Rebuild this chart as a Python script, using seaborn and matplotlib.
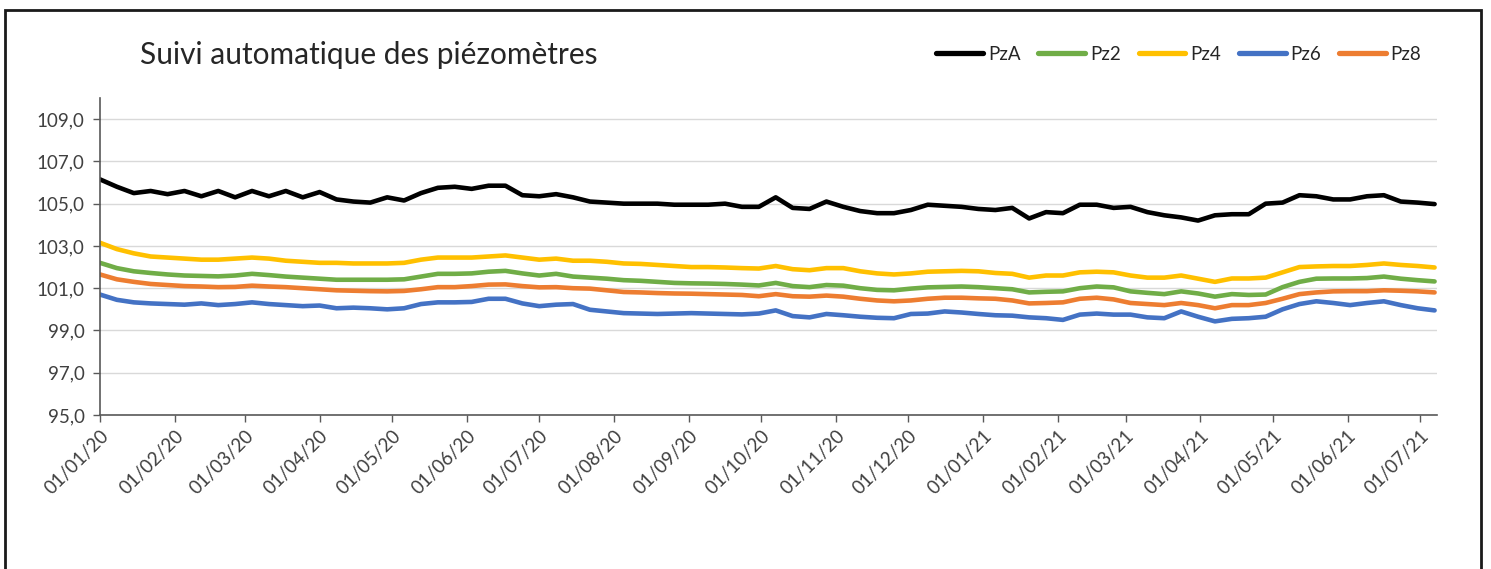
import numpy as np
import pandas as pd
import matplotlib
matplotlib.use("Agg")
import matplotlib.pyplot as plt
import matplotlib.dates as mdates
from matplotlib.ticker import FuncFormatter, FixedLocator
from matplotlib.patches import Rectangle
import seaborn as sns

# ---------------- data (weekly readings, 2020-01-01 ... 2021-07-07) ----------------
start_date = "2020-01-01"
n_weeks = 80

pzA = [106.15, 105.8, 105.5, 105.6, 105.45, 105.6, 105.35, 105.6, 105.3, 105.6,
       105.35, 105.6, 105.3, 105.55, 105.2, 105.1, 105.05, 105.3, 105.15, 105.5,
       105.75, 105.8, 105.7, 105.85, 105.85, 105.4, 105.35, 105.45, 105.3, 105.1,
       105.05, 105.0, 105.0, 105.0, 104.95, 104.95, 104.95, 105.0, 104.85, 104.85,
       105.3, 104.8, 104.75, 105.1, 104.85, 104.65, 104.55, 104.55, 104.7, 104.95,
       104.9, 104.85, 104.75, 104.7, 104.8, 104.3, 104.6, 104.55, 104.95, 104.95,
       104.8, 104.85, 104.6, 104.45, 104.35, 104.2, 104.45, 104.5, 104.5, 105.0,
       105.05, 105.4, 105.35, 105.2, 105.2, 105.35, 105.4, 105.1, 105.05, 104.98]

pz2 = [102.2, 101.95, 101.8, 101.72, 101.65, 101.6, 101.58, 101.56, 101.6, 101.68,
       101.62, 101.55, 101.5, 101.45, 101.4, 101.4, 101.4, 101.4, 101.42, 101.55,
       101.68, 101.68, 101.7, 101.78, 101.82, 101.7, 101.6, 101.68, 101.55, 101.5,
       101.45, 101.38, 101.35, 101.3, 101.25, 101.23, 101.22, 101.2, 101.17, 101.13,
       101.25, 101.1, 101.05, 101.15, 101.12, 101.0, 100.92, 100.9, 100.98, 101.04,
       101.06, 101.08, 101.05, 101.0, 100.95, 100.8, 100.83, 100.85, 101.0, 101.08,
       101.04, 100.85, 100.78, 100.72, 100.85, 100.75, 100.6, 100.72, 100.68, 100.7,
       101.05, 101.3, 101.45, 101.46, 101.46, 101.48, 101.55, 101.45, 101.38, 101.32]

pz4 = [103.15, 102.85, 102.65, 102.5, 102.45, 102.4, 102.35, 102.35, 102.4, 102.45,
       102.4, 102.3, 102.25, 102.2, 102.2, 102.17, 102.17, 102.17, 102.2, 102.35,
       102.45, 102.45, 102.45, 102.5, 102.55, 102.45, 102.35, 102.4, 102.3, 102.3,
       102.25, 102.17, 102.15, 102.1, 102.05, 102.0, 102.0, 101.98, 101.95, 101.93,
       102.05, 101.9, 101.85, 101.95, 101.95, 101.8, 101.7, 101.65, 101.7, 101.78,
       101.8, 101.82, 101.8, 101.72, 101.68, 101.5, 101.6, 101.6, 101.75, 101.78,
       101.75, 101.6, 101.5, 101.5, 101.6, 101.45, 101.3, 101.46, 101.46, 101.5,
       101.75, 102.0, 102.03, 102.05, 102.05, 102.1, 102.17, 102.1, 102.05, 101.98]

pz6 = [100.7, 100.45, 100.33, 100.28, 100.25, 100.22, 100.28, 100.2, 100.25, 100.33,
       100.25, 100.2, 100.15, 100.18, 100.05, 100.08, 100.05, 100.0, 100.05, 100.25,
       100.33, 100.33, 100.35, 100.5, 100.5, 100.28, 100.15, 100.22, 100.25, 99.98,
       99.9, 99.82, 99.8, 99.78, 99.8, 99.82, 99.8, 99.78, 99.76, 99.8,
       99.95, 99.68, 99.62, 99.78, 99.72, 99.65, 99.6, 99.58, 99.78, 99.8,
       99.9, 99.85, 99.78, 99.72, 99.7, 99.62, 99.58, 99.5, 99.75, 99.8,
       99.75, 99.75, 99.62, 99.58, 99.9, 99.65, 99.43, 99.55, 99.58, 99.65,
       100.0, 100.25, 100.38, 100.3, 100.2, 100.3, 100.38, 100.2, 100.05, 99.95]

pz8 = [101.65, 101.42, 101.3, 101.2, 101.15, 101.1, 101.08, 101.05, 101.06, 101.12,
       101.08, 101.05, 101.0, 100.95, 100.9, 100.88, 100.86, 100.85, 100.87, 100.95,
       101.05, 101.05, 101.1, 101.17, 101.18, 101.1, 101.04, 101.05, 101.0, 100.98,
       100.9, 100.82, 100.8, 100.77, 100.75, 100.74, 100.72, 100.7, 100.68, 100.62,
       100.72, 100.62, 100.6, 100.65, 100.6, 100.5, 100.42, 100.38, 100.42, 100.5,
       100.55, 100.55, 100.52, 100.5, 100.42, 100.28, 100.3, 100.33, 100.5, 100.55,
       100.47, 100.3, 100.25, 100.2, 100.3, 100.2, 100.05, 100.2, 100.2, 100.3,
       100.5, 100.72, 100.8, 100.85, 100.86, 100.86, 100.9, 100.88, 100.85, 100.8]

series_names = ["PzA", "Pz2", "Pz4", "Pz6", "Pz8"]
series_colors = ["#000000", "#70ad47", "#ffc000", "#4472c4", "#ed7d31"]
y_ticks = [95.0, 97.0, 99.0, 101.0, 103.0, 105.0, 107.0, 109.0]
title_text = "Suivi automatique des piézomètres"

# ---------------- build frame ----------------
dates = pd.date_range(start_date, periods=n_weeks, freq="7D")
values = {"PzA": pzA, "Pz2": pz2, "Pz4": pz4, "Pz6": pz6, "Pz8": pz8}
df = pd.concat(
    [pd.DataFrame({"date": dates, "niveau": values[n], "serie": n}) for n in series_names],
    ignore_index=True,
)

# ---------------- style ----------------
sns.set_style("white")
plt.rcParams["font.family"] = ["Lato", "DejaVu Sans"]

fig = plt.figure(figsize=(14.91, 5.69), dpi=100)
ax = fig.add_axes([100 / 1491, 1 - 415 / 569, (1437 - 100) / 1491, (415 - 98) / 569])

sns.lineplot(data=df, x="date", y="niveau", hue="serie", hue_order=series_names,
             palette=dict(zip(series_names, series_colors)), linewidth=3.3,
             ax=ax, legend=False)

ax.set_ylim(95, 110)
ax.yaxis.set_major_locator(FixedLocator(y_ticks))
ax.yaxis.set_major_formatter(FuncFormatter(lambda v, p: f"{v:.1f}".replace(".", ",")))
ax.set_xlim(pd.Timestamp("2020-01-01"), pd.Timestamp("2021-07-08"))
ax.xaxis.set_major_locator(mdates.MonthLocator(bymonthday=1))
ax.xaxis.set_major_formatter(mdates.DateFormatter("%d/%m/%y"))
ax.set_xlabel("")
ax.set_ylabel("")

ax.grid(axis="y", color="#d9d9d9", linewidth=1.0)
ax.grid(axis="x", visible=False)
ax.set_axisbelow(True)
for s in ["top", "right"]:
    ax.spines[s].set_visible(False)
for s in ["left", "bottom"]:
    ax.spines[s].set_color("#595959")
    ax.spines[s].set_linewidth(1.2)

ax.tick_params(axis="both", which="major", direction="out", length=5, width=1,
               color="#595959", labelsize=13.5, labelcolor="#404040", left=True, bottom=True)
ax.tick_params(axis="y", pad=6)
for lab in ax.get_xticklabels():
    lab.set_rotation(45)
    lab.set_ha("right")
    lab.set_rotation_mode("anchor")

# title
fig.text(140 / 1491, 1 - 55 / 569, title_text, fontsize=21.5, color="#262626",
         ha="left", va="center")

# legend
handles = [plt.Line2D([], [], color=c, linewidth=3.8, solid_capstyle="round")
           for c in series_colors]
fig.legend(handles, series_names, ncol=5, loc="center right",
           bbox_to_anchor=(1438 / 1491, 1 - 54 / 569), frameon=False, fontsize=13.5,
           handlelength=2.5, handletextpad=0.25, columnspacing=0.95, labelcolor="#262626")

# outer frame
fig.patches.append(Rectangle((5 / 1491, -0.2), 1476 / 1491, 1.2 - 10 / 569,
                             transform=fig.transFigure, fill=False, edgecolor="#1a1a1a",
                             linewidth=2.0))

fig.savefig("out.png", dpi=100)
